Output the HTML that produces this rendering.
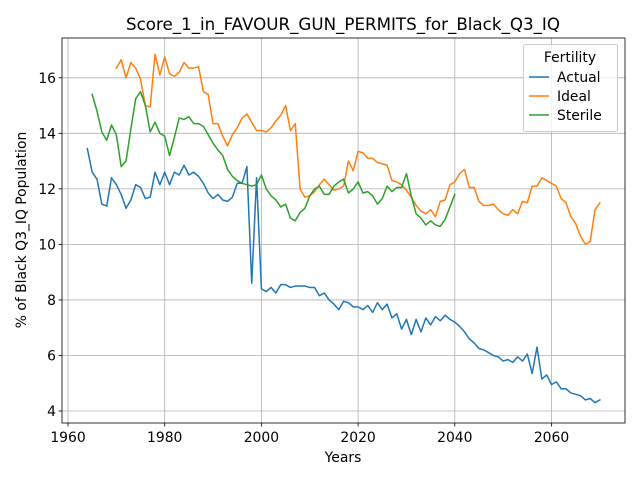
<!DOCTYPE html>
<html><head><meta charset="utf-8"><style>
body{margin:0;background:#fff;font-family:"Liberation Sans","DejaVu Sans",sans-serif}
svg text{font-family:"DejaVu Sans","Liberation Sans",sans-serif}
</style></head><body>
<svg id="chart" width="640" height="480" viewBox="0 0 640 480" style="position:absolute;left:0;top:0"></svg>
<script>
const actualYears0 = 1964;
const actualValues = [13.45,12.6,12.35,11.45,11.38,12.4,12.15,11.8,11.3,11.6,12.15,12.05,11.65,11.7,12.6,12.15,12.6,12.15,12.6,12.5,12.85,12.5,12.6,12.45,12.2,11.85,11.65,11.8,11.6,11.55,11.7,12.2,12.2,12.8,8.6,12.4,8.4,8.3,8.45,8.25,8.55,8.55,8.45,8.5,8.5,8.5,8.45,8.45,8.15,8.25,8.0,7.85,7.65,7.95,7.9,7.75,7.75,7.65,7.8,7.55,7.9,7.65,7.85,7.35,7.5,6.95,7.3,6.75,7.3,6.85,7.35,7.1,7.4,7.25,7.45,7.3,7.2,7.05,6.85,6.6,6.45,6.25,6.2,6.1,6.0,5.95,5.8,5.85,5.75,5.95,5.8,6.05,5.35,6.3,5.15,5.3,4.95,5.05,4.8,4.8,4.65,4.6,4.55,4.4,4.45,4.3,4.4];
const idealYears0 = 1970;
const idealValues = [16.35,16.65,16.0,16.55,16.35,15.95,15.0,14.95,16.85,16.1,16.75,16.15,16.05,16.2,16.55,16.35,16.35,16.4,15.5,15.4,14.35,14.35,13.9,13.55,13.95,14.2,14.55,14.7,14.4,14.1,14.1,14.05,14.2,14.45,14.65,15.0,14.1,14.35,12.0,11.7,11.75,11.9,12.15,12.35,12.15,11.95,12.0,12.1,13.0,12.65,13.35,13.3,13.1,13.1,12.95,12.9,12.85,12.3,12.25,12.15,11.95,11.7,11.4,11.2,11.1,11.25,11.0,11.55,11.6,12.15,12.25,12.55,12.7,12.05,12.05,11.55,11.4,11.4,11.45,11.25,11.1,11.05,11.25,11.1,11.55,11.5,12.1,12.1,12.4,12.3,12.2,12.1,11.65,11.5,11.0,10.75,10.3,10.0,10.1,11.25,11.5];
const sterileYears0 = 1965;
const sterileValues = [15.4,14.8,14.05,13.75,14.3,13.95,12.8,13.0,14.15,15.25,15.5,15.0,14.05,14.4,14.0,13.9,13.2,13.85,14.55,14.5,14.6,14.35,14.35,14.25,13.95,13.65,13.4,13.2,12.7,12.45,12.3,12.2,12.15,12.1,12.15,12.5,12.0,11.75,11.6,11.35,11.45,10.95,10.85,11.15,11.3,11.75,12.0,12.1,11.8,11.8,12.1,12.25,12.35,11.85,12.0,12.25,11.85,11.9,11.75,11.45,11.65,12.1,11.9,12.05,12.05,12.55,11.75,11.1,10.95,10.7,10.85,10.7,10.65,10.9,11.35,11.8];
const xTicks = [1960,1980,2000,2020,2040,2060];
const yTicks = [4,6,8,10,12,14,16];

const L=62,R=625,T=38,B=423;
const X = v => 68 + (v-1960)*(96.7/20);
const Y = v => 411 - (v-4)*(333.2/12);
const svg=document.getElementById('chart');
const NS='http://www.w3.org/2000/svg';
function mk(tag,attrs,parent){const e=document.createElementNS(NS,tag);for(const k in attrs)e.setAttribute(k,attrs[k]);(parent||svg).appendChild(e);return e;}

const grid=mk('g',{});


xTicks.forEach(t=>{
  const l=mk('line',{x1:X(t),x2:X(t),y1:T,y2:B,stroke:'#b0b0b0','stroke-width':0.8},grid);
  
  
  mk('line',{x1:X(t),x2:X(t),y1:B,y2:B+3.5,stroke:'#000','stroke-width':0.8});
  const tx=mk('text',{x:X(t),y:B+19,'text-anchor':'middle','font-size':13.9});
  tx.textContent=t;
  
  
});
yTicks.forEach(t=>{
  const l=mk('line',{x1:L,x2:R,y1:Y(t),y2:Y(t),stroke:'#b0b0b0','stroke-width':0.8},grid);
  
  
  mk('line',{x1:L-3.5,x2:L,y1:Y(t),y2:Y(t),stroke:'#000','stroke-width':0.8});
  const tx=mk('text',{x:L-6,y:Y(t)+5,'text-anchor':'end','font-size':13.9});
  tx.textContent=t;
  
  
});
function series(y0,vals,color,name){
  const pts=vals.map((v,i)=>X(y0+i).toFixed(2)+','+Y(v).toFixed(2)).join(' ');
  const p=mk('polyline',{points:pts,fill:'none',stroke:color,'stroke-width':1.5,'stroke-linejoin':'round','stroke-linecap':'square'});
  
  
}
series(actualYears0,actualValues,'#1f77b4','actual-line');
series(idealYears0,idealValues,'#ff7f0e','ideal-line');
series(sterileYears0,sterileValues,'#2ca02c','sterile-line');
const fr=mk('rect',{x:L,y:T,width:R-L,height:B-T,fill:'none',stroke:'#000','stroke-width':0.8});


</script>
<svg width="640" height="480" style="position:absolute;left:0;top:0">
<text x="343" y="30" text-anchor="middle" font-size="16.7">Score_1_in_FAVOUR_GUN_PERMITS_for_Black_Q3_IQ</text>
<text x="343" y="462" text-anchor="middle" font-size="13.9">Years</text>
<text x="26" y="230" text-anchor="middle" font-size="13.9" transform="rotate(-90 26 230)">% of Black Q3_IQ Population</text>
<g>
<rect x="523.5" y="44.5" width="94" height="87" rx="2" fill="#fff" fill-opacity="0.8" stroke="#ccc"/>
<text x="570" y="62" text-anchor="middle" font-size="13.9">Fertility</text>
<g><line x1="529" x2="549" y1="77" y2="77" stroke="#1f77b4" stroke-width="1.5"/><text x="557" y="82" font-size="13.9">Actual</text></g>
<g><line x1="529" x2="549" y1="96" y2="96" stroke="#ff7f0e" stroke-width="1.5"/><text x="557" y="101" font-size="13.9">Ideal</text></g>
<g><line x1="529" x2="549" y1="115" y2="115" stroke="#2ca02c" stroke-width="1.5"/><text x="557" y="120" font-size="13.9">Sterile</text></g>
</g>
</svg>
</body></html>
